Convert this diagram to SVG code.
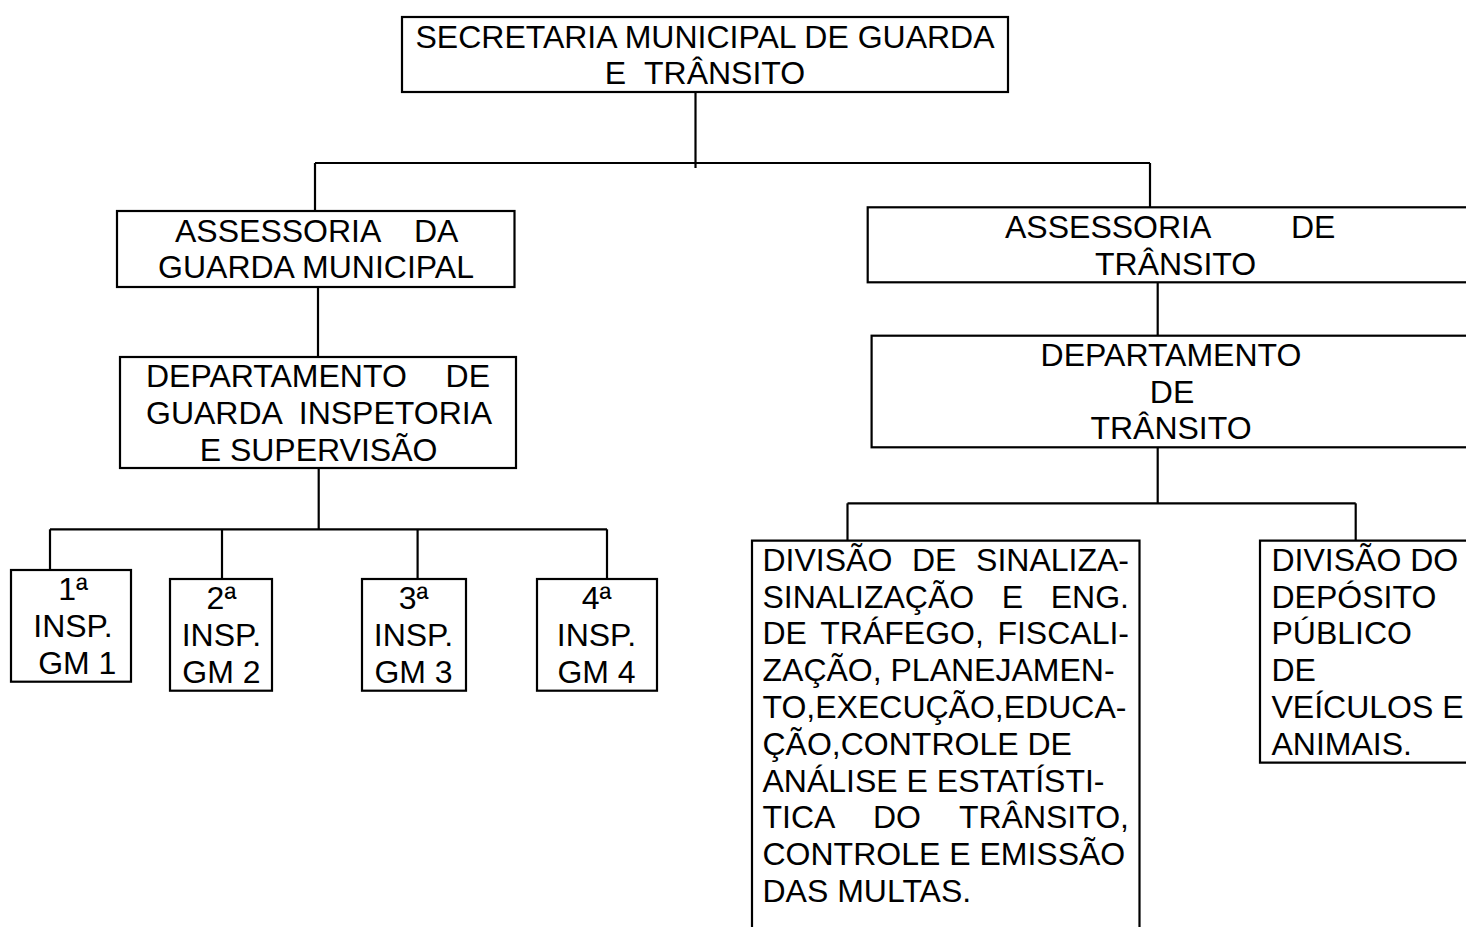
<svg xmlns="http://www.w3.org/2000/svg" width="1466" height="927" viewBox="0 0 1466 927">
<style>
  .box { fill: #fff; stroke: #000; stroke-width: 2.2; }
  .open { fill: none; stroke: #000; stroke-width: 2.2; }
  .conn { fill: none; stroke: #000; stroke-width: 2.2; }
  text { font-family: "Liberation Sans", Arial, sans-serif; font-size: 32px; fill: #000; }
  .c { text-anchor: middle; }
  .e { text-anchor: end; }
</style>
<rect width="1466" height="927" fill="#fff"/>

<g id="connectors">
  <path class="conn" d="M695.5,92 V168"/>
  <path class="conn" d="M315,163 H1150"/>
  <path class="conn" d="M315,163 V211"/>
  <path class="conn" d="M1150,163 V207"/>
  <path class="conn" d="M318,287 V357"/>
  <path class="conn" d="M318.7,468 V529.3"/>
  <path class="conn" d="M50,529.3 H607"/>
  <path class="conn" d="M50,529.3 V577"/>
  <path class="conn" d="M222,529.3 V579"/>
  <path class="conn" d="M417.6,529.3 V579"/>
  <path class="conn" d="M607,529.3 V579"/>
  <path class="conn" d="M1157.7,282.3 V335.7"/>
  <path class="conn" d="M1157.7,447.3 V503.3"/>
  <path class="conn" d="M847.5,503.3 H1355.7"/>
  <path class="conn" d="M847.5,503.3 V540.7"/>
  <path class="conn" d="M1355.7,503.3 V540.7"/>
</g>

<g id="secretaria">
  <rect class="box" x="402" y="17" width="606" height="75"/>
  <text class="c" x="705" y="47.5">SECRETARIA MUNICIPAL DE GUARDA</text>
  <text class="c" x="705" y="84.3">E<tspan dx="17.8">TRÂNSITO</tspan></text>
</g>

<g id="assessoria-guarda">
  <rect class="box" x="117" y="211" width="397.5" height="76"/>
  <text x="175" y="241.5">ASSESSORIA<tspan x="414">DA</tspan></text>
  <text class="c" x="316" y="278.3">GUARDA MUNICIPAL</text>
</g>

<g id="departamento-guarda">
  <rect class="box" x="120" y="357" width="396" height="111"/>
  <text x="146" y="387">DEPARTAMENTO</text>
  <text class="e" x="490" y="387">DE</text>
  <text x="146" y="423.8">GUARDA</text>
  <text class="e" x="492" y="423.8">INSPETORIA</text>
  <text class="c" x="318.5" y="460.6">E SUPERVISÃO</text>
</g>

<g id="insp1">
  <rect class="box" x="11" y="570" width="120" height="111.7"/>
  <text class="c" x="73" y="600">1ª</text>
  <text class="c" x="73" y="636.8">INSP.</text>
  <text class="c" x="77.3" y="673.6">GM 1</text>
</g>

<g id="insp2">
  <rect class="box" x="170" y="579" width="102" height="111.7"/>
  <text class="c" x="221.4" y="609">2ª</text>
  <text class="c" x="221.4" y="645.8">INSP.</text>
  <text class="c" x="221.4" y="682.6">GM 2</text>
</g>

<g id="insp3">
  <rect class="box" x="362" y="579" width="104" height="111.7"/>
  <text class="c" x="413.5" y="609">3ª</text>
  <text class="c" x="413.5" y="645.8">INSP.</text>
  <text class="c" x="413.5" y="682.6">GM 3</text>
</g>

<g id="insp4">
  <rect class="box" x="537" y="579" width="120" height="111.7"/>
  <text class="c" x="596.5" y="609">4ª</text>
  <text class="c" x="596.5" y="645.8">INSP.</text>
  <text class="c" x="596.5" y="682.6">GM 4</text>
</g>

<g id="assessoria-transito">
  <rect class="box" x="867.7" y="207.3" width="620" height="75"/>
  <text x="1005" y="237.7">ASSESSORIA<tspan x="1291">DE</tspan></text>
  <text x="1095" y="274.5">TRÂNSITO</text>
</g>

<g id="departamento-transito">
  <rect class="box" x="871.6" y="335.7" width="620" height="111.6"/>
  <text class="c" x="1171" y="365.7">DEPARTAMENTO</text>
  <text class="c" x="1172" y="402.5">DE</text>
  <text class="c" x="1171" y="439.3">TRÂNSITO</text>
</g>

<g id="divisao-sinalizacao">
  <path class="open" d="M752,935 V540.7 H1139.5 V935"/>
  <text x="762.5" y="570.7">DIVISÃO</text>
  <text x="912" y="570.7">DE</text>
  <text class="e" x="1129" y="570.7">SINALIZA-</text>
  <text x="762.5" y="607.5">SINALIZAÇÃO</text>
  <text x="1001.8" y="607.5">E</text>
  <text class="e" x="1129" y="607.5">ENG.</text>
  <text x="762.5" y="644.3">DE</text>
  <text x="820.3" y="644.3">TRÁFEGO,</text>
  <text class="e" x="1129" y="644.3">FISCALI-</text>
  <text x="762.5" y="681.1">ZAÇÃO, PLANEJAMEN-</text>
  <text x="762.5" y="717.9">TO,EXECUÇÃO,EDUCA-</text>
  <text x="762.5" y="754.7">ÇÃO,CONTROLE DE</text>
  <text x="762.5" y="791.5">ANÁLISE E ESTATÍSTI-</text>
  <text x="762.5" y="828.3">TICA</text>
  <text x="872.9" y="828.3">DO</text>
  <text class="e" x="1129" y="828.3">TRÂNSITO,</text>
  <text x="762.5" y="865.1">CONTROLE E EMISSÃO</text>
  <text x="762.5" y="901.9">DAS MULTAS.</text>
</g>

<g id="divisao-deposito">
  <path class="open" d="M1490,540.7 H1260 V762.7 H1490"/>
  <text x="1271.5" y="570.7">DIVISÃO DO</text>
  <text x="1271.5" y="607.5">DEPÓSITO</text>
  <text x="1271.5" y="644.3">PÚBLICO</text>
  <text x="1271.5" y="681.1">DE</text>
  <text x="1271.5" y="717.9">VEÍCULOS E</text>
  <text x="1271.5" y="754.7">ANIMAIS.</text>
</g>
</svg>
